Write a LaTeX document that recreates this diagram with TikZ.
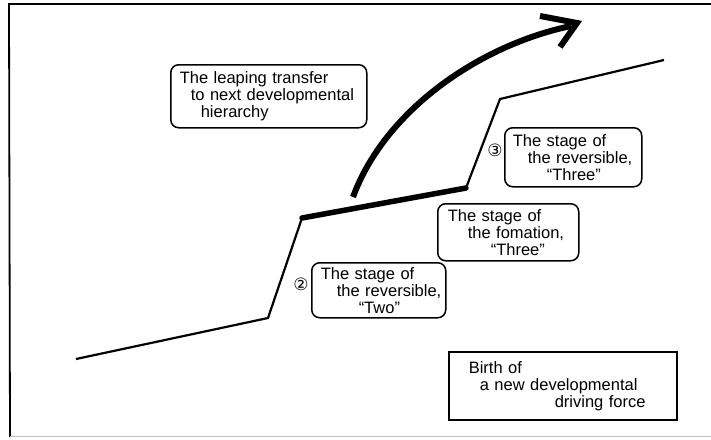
\documentclass[tikz,border=0pt]{standalone}
\usepackage{fontspec}
\setmainfont{Liberation Sans}
\newfontfamily\symfont{DejaVu Sans}
\begin{document}
\begin{tikzpicture}[x=1pt,y=-1pt,
  rbox/.style={draw, line width=1.5pt, rounded corners=8pt, anchor=north west,
    inner xsep=0pt, inner ysep=0pt, align=left,
    font=\fontsize{16.5}{17}\selectfont},
  sbox/.style={rbox, rounded corners=0pt},
  thinline/.style={line width=2.2pt, line join=miter},
  thickseg/.style={line width=5.5pt, line cap=round},
  leap/.style={line width=6pt},
  numlbl/.style={font=\symfont\fontsize{17}{17}\selectfont, inner sep=0pt},
  frameline/.style={line width=1.8pt}
]
\useasboundingbox (0,0) rectangle (711,439);
\fill[white] (0,0) rectangle (711,439);
% frame
\coordinate (ftl) at (9,4);
\coordinate (ftr) at (711,4);
\coordinate (fbl) at (10,437);
\coordinate (fbr) at (711,436);
\draw[frameline] (ftr) -- (ftl) -- (fbl);
\draw[black!25, line width=1pt] (10,436) -- (fbr);
% main stepped line
\coordinate (p0) at (76,359);
\coordinate (p1) at (268,318);
\coordinate (p2) at (302,218);
\coordinate (p3) at (466,188);
\coordinate (p4) at (500,99);
\coordinate (p5) at (664,60);
\draw[thinline] (p0) -- (p1) -- (p2) -- (p3) -- (p4) -- (p5);
\draw[thickseg] (p2) -- (p3);
% leaping arrow
\coordinate (a0) at (353,197);
\coordinate (a1) at (571,26);
\coordinate (h1) at (540,16);
\coordinate (h2) at (577,23);
\coordinate (h3) at (560,47);
\draw[leap] (a0) .. controls (385,110) and (480,45) .. (a1);
\draw[leap, line join=miter] (h1) -- (h2) -- (h3);
% boxes
\node[rbox, text width=196pt, minimum height=63pt] (leapbox) at (170,64)
  {\hspace*{9pt}The leaping transfer\\\hspace*{20pt}to next developmental\\\hspace*{30pt}hierarchy};
\node[rbox, text width=137pt, minimum height=59pt] (rev3) at (504,127)
  {\hspace*{8pt}The stage of\\\hspace*{23pt}the reversible,\\\hspace*{42pt}“Three”};
\node[rbox, text width=141pt, minimum height=57pt] (form3) at (437,203)
  {\hspace*{10pt}The stage of\\\hspace*{30pt}the fomation,\\\hspace*{53pt}“Three”};
\node[rbox, text width=134pt, minimum height=55pt] (rev2) at (311,262)
  {\hspace*{9pt}The stage of\\\hspace*{25pt}the reversible,\\\hspace*{47pt}“Two”};
\node[sbox, text width=228pt, minimum height=68pt] (birth) at (448,351)
  {\hspace*{20pt}Birth of\\\hspace*{31pt}a new developmental\\\hspace*{106pt}driving force};
% circled numbers
\node[numlbl] (n2) at (301,284) {②};
\node[numlbl] (n3) at (495,150) {③};
\end{tikzpicture}
\end{document}
